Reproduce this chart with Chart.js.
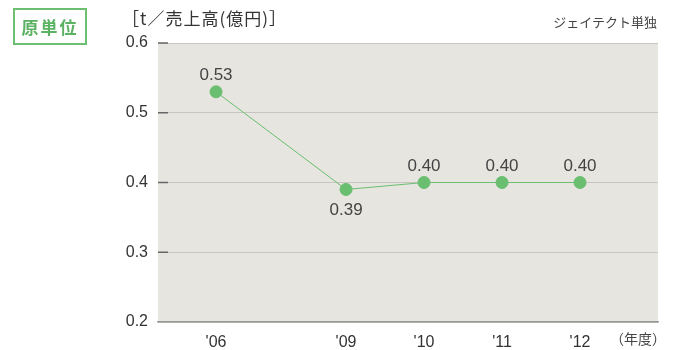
<!DOCTYPE html>
<html>
<head>
<meta charset="utf-8">
<script src="https://cdn.jsdelivr.net/npm/chart.js@4/dist/chart.umd.min.js"></script>
<style>
  body { margin: 0; background: #fff; }
  #wrap { position: relative; width: 673px; height: 350px; }
  #box { position: absolute; left: 13px; top: 8px; width: 70px; height: 33px; border: 2px solid #6dbf72;
    color: #5cb263; font: bold 17px "Noto Sans CJK JP"; letter-spacing: 2px; text-align: center; line-height: 33px; }
  #unit { position: absolute; left: 122px; top: 5px; font: 17px "Noto Sans CJK JP"; letter-spacing: 1px; color: #333; }
  #scope { position: absolute; right: 16px; top: 12px; font: 13px "Noto Sans CJK JP"; color: #444; }
  #nendo { position: absolute; left: 610px; top: 328px; font: 14px "Noto Sans CJK JP"; color: #444; }
</style>
</head>
<body>
<div id="wrap">
  <canvas id="grafico" width="673" height="350"></canvas>
  <div id="box">原単位</div>
  <div id="unit">［t／売上高(億円)］</div>
  <div id="scope">ジェイテクト単独</div>
  <div id="nendo">（年度）</div>
</div>
<script>
// anos e posições no eixo (o intervalo '06 -> '09 é mais largo)
const anos = ["'06", "'09", "'10", "'11", "'12"];
const posicaoAno = [0, 1.667, 2.667, 3.667, 4.667];
const valores = [0.53, 0.39, 0.40, 0.40, 0.40];
const rotulos = ["0.53", "0.39", "0.40", "0.40", "0.40"];
const ticksY = [0.2, 0.3, 0.4, 0.5, 0.6];

const verde = "rgb(106, 190, 112)";

const fundoPlot = {
    id: 'fundoPlot',
    beforeDraw(chart) {
        const a = chart.chartArea;
        const ctx = chart.ctx;
        ctx.save();
        ctx.fillStyle = "#e6e5df";
        ctx.fillRect(a.left, a.top, a.right - a.left, a.bottom - a.top);
        ctx.restore();
    },
    afterDraw(chart) {
        // marcas curtas do eixo y, dentro da área
        const a = chart.chartArea;
        const ctx = chart.ctx;
        const y = chart.scales.y;
        ctx.save();
        ctx.strokeStyle = "#666";
        ctx.lineWidth = 1.5;
        ticksY.forEach(function (v) {
            if (v == 0.2) return;
            const py = y.getPixelForValue(v);
            ctx.beginPath();
            ctx.moveTo(a.left, py);
            ctx.lineTo(a.left + 10, py);
            ctx.stroke();
        });
        // rótulos dos pontos
        ctx.fillStyle = "#444";
        ctx.font = "17px 'Liberation Sans', Arial";
        ctx.textAlign = "center";
        const meta = chart.getDatasetMeta(0);
        meta.data.forEach(function (p, i) {
            if (i == 1) {
                ctx.textBaseline = "top";
                ctx.fillText(rotulos[i], p.x, p.y + 12);
            } else {
                ctx.textBaseline = "bottom";
                ctx.fillText(rotulos[i], p.x, p.y - 8);
            }
        });
        ctx.restore();
    }
};

const dados = {
    datasets: [{
        data: posicaoAno.map(function (x, i) { return { x: x, y: valores[i] }; }),
        borderColor: verde,
        backgroundColor: verde,
        borderWidth: 1,
        pointRadius: 6,
        pointHoverRadius: 6
    }]
};

new Chart(document.getElementById('grafico'), {
    type: 'line',
    data: dados,
    options: {
        responsive: false,
        animation: false,
        layout: { padding: { top: 43, right: 15, left: 0, bottom: 0 } },
        plugins: {
            legend: { display: false },
            tooltip: { enabled: false }
        },
        scales: {
            x: {
                type: 'linear',
                min: -0.744,
                max: 5.667,
                afterBuildTicks: function (scale) {
                    scale.ticks = posicaoAno.map(function (v) { return { value: v }; });
                },
                afterFit: function (scale) { scale.height = 28; },
                ticks: {
                    color: "#333",
                    font: { family: "'Liberation Sans', Arial", size: 16 },
                    padding: 3,
                    callback: function (v) {
                        const i = posicaoAno.indexOf(v);
                        return i >= 0 ? anos[i] : '';
                    }
                },
                grid: { display: false },
                border: { display: true, color: "#999", width: 1.5 }
            },
            y: {
                min: 0.2,
                max: 0.6,
                afterBuildTicks: function (scale) {
                    scale.ticks = ticksY.map(function (v) { return { value: v }; });
                },
                afterFit: function (scale) { scale.width = 158; },
                ticks: {
                    color: "#333",
                    font: { family: "'Liberation Sans', Arial", size: 16 },
                    padding: 10,
                    callback: function (v) { return v.toFixed(1); }
                },
                grid: { color: "#c6c5c1", lineWidth: 1, drawTicks: false },
                border: { display: false }
            }
        }
    },
    plugins: [fundoPlot]
});
</script>
</body>
</html>
